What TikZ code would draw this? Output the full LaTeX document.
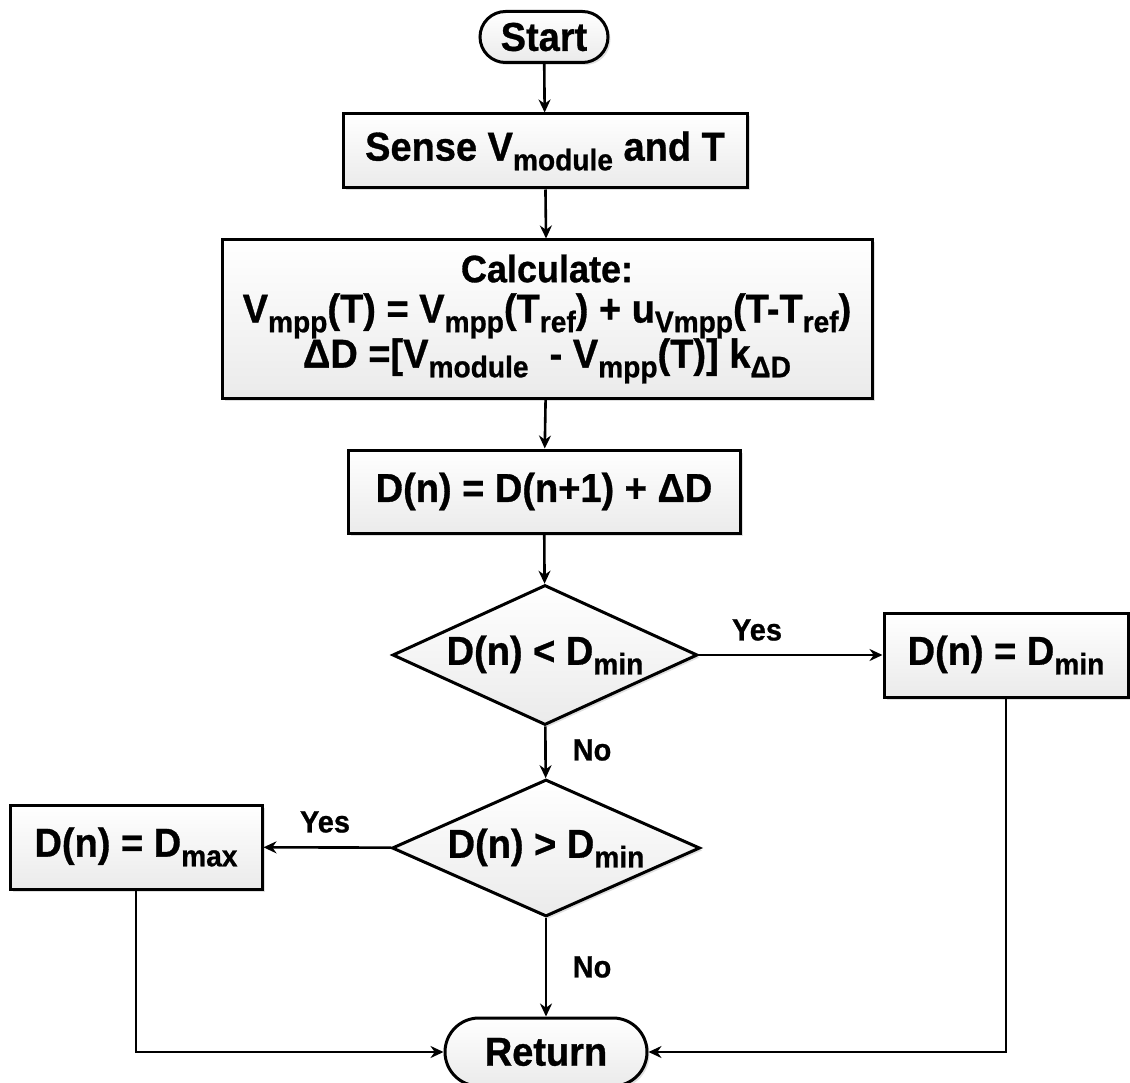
\documentclass[tikz,border=0pt]{standalone}
\usepackage{fontspec}
\setmainfont{Liberation Sans}[BoldFeatures={FakeBold=0.8}]
\usetikzlibrary{shapes.geometric,shapes.misc,arrows.meta,shadows}
\newcommand\lsub[1]{\raisebox{-0.24em}{\scalebox{0.74}{#1}}}
\newcommand\vst[1]{\scalebox{1}[1.06]{#1}}
\begin{document}
\begin{tikzpicture}[x=1pt,y=-1pt,
  base/.style={draw=black, line width=3pt, top color=white, bottom color=gray!16,
    font=\fontsize{38}{44}\selectfont\bfseries, inner sep=0pt,
    drop shadow={opacity=0.25, shadow xshift=2.5pt, shadow yshift=-2.5pt, fill=gray}},
  procbox/.style={base, rectangle},
  termbox/.style={base, rounded rectangle},
  decbox/.style={base, diamond, aspect=2.2},
  arr/.style={line width=2.6pt, -{Stealth[length=13pt,width=12pt]}},
  lbl/.style={font=\fontsize{29}{32}\selectfont\bfseries, inner sep=0pt}]
\useasboundingbox (0,0) rectangle (1130,1083);

\node[termbox, minimum width=128pt, minimum height=51pt] (start) at (544,37) {\vst{Start}};
\node[procbox, minimum width=404pt, minimum height=74pt] (sense) at (545,151) {\vst{Sense V\lsub{module} and T}};
\node[procbox, minimum width=650pt, minimum height=158pt,
  font=\fontsize{38}{39}\selectfont\bfseries] (calc) at (547,319)
  {\vst{\renewcommand\arraystretch{0.9}\begin{tabular}{@{}c@{}}
   {\fontsize{36}{39}\selectfont Calculate:}\\
   V\lsub{mpp}(T) = V\lsub{mpp}(T\lsub{ref}) + u\lsub{Vmpp}(T-T\lsub{ref})\\[1pt]
   ΔD =[V\lsub{module}\ \ - V\lsub{mpp}(T)] k\lsub{ΔD}\end{tabular}}};
\node[procbox, minimum width=392pt, minimum height=83pt] (dn) at (544,491.5) {\vst{D(n) = D(n+1) + ΔD}};
\node[decbox, minimum width=305pt, minimum height=140pt] (dia1) at (545,655) {\vst{D(n) < D\lsub{min}}};
\node[procbox, minimum width=244pt, minimum height=84pt] (dmin) at (1006,655) {\vst{D(n) = D\lsub{min}}};
\node[decbox, minimum width=308pt, minimum height=137pt] (dia2) at (546,848) {\vst{D(n) > D\lsub{min}}};
\node[procbox, minimum width=252pt, minimum height=84pt] (dmax) at (136,847) {\vst{D(n) = D\lsub{max}}};
\node[termbox, minimum width=202pt, minimum height=68pt] (ret) at (546,1052) {\vst{Return}};

\draw[arr] (start) -- (sense);
\draw[arr] (sense) -- (calc);
\draw[arr] (calc) -- (dn);
\draw[arr] (dn) -- (dia1);
\draw[arr] (dia1) -- (dmin);
\draw[arr] (dia1) -- (dia2);
\draw[arr] (dia2) -- (dmax);
\draw[arr] (dia2) -- (ret);
\draw[arr] (dmin.south) |- (ret.east);
\draw[arr] (dmax.south) |- (ret.west);

\node[lbl] (yes1) at (757,630) {\vst{Yes}};
\node[lbl] (no1) at (592,750) {\vst{No}};
\node[lbl] (yes2) at (325,822) {\vst{Yes}};
\node[lbl] (no2) at (592,967) {\vst{No}};
\end{tikzpicture}
\end{document}
